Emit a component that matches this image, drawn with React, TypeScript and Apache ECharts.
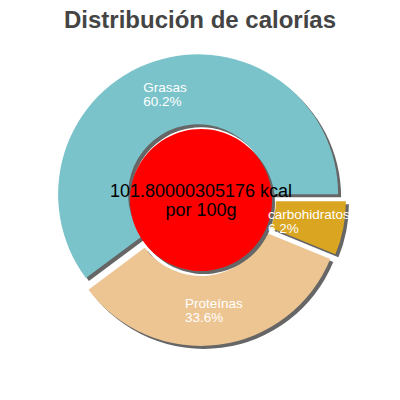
import React, { useEffect, useRef } from "react";
import * as echarts from "echarts";

const TITLE = "Distribución de calorías";
const categories = ["Grasas", "Proteínas", "carbohidratos"];
const percents = [60.2, 33.6, 6.2];
const colors = ["#7bc3cb", "#edc592", "#daa520"];
const energyKcal = "101.80000305176";
const centerLabel = ["101.80000305176 kcal", "por 100g"];

const FONT = "Liberation Sans, Arial, sans-serif";
const LABEL_RADIUS = 111;

export default function App() {
  const ref = useRef<HTMLDivElement>(null);
  useEffect(() => {
    if (!ref.current) return;
    const chart = echarts.init(ref.current, null, { renderer: "svg" });
    const total = percents.reduce((a, b) => a + b, 0);
    let acc = 0;
    const labelPoints = categories.map((name, i) => {
      const mid = acc + percents[i] / 2;
      acc += percents[i];
      return { name, value: [LABEL_RADIUS, mid], pct: percents[i] };
    });
    const sliceData = categories.map((name, i) => ({
      name,
      value: percents[i],
      selected: true,
      itemStyle: { color: colors[i] },
    }));
    const shadowData = categories.map((name, i) => ({
      name,
      value: percents[i],
      selected: true,
    }));
    const common = {
      type: "pie",
      radius: [70, 140],
      startAngle: 0,
      clockwise: false,
      selectedMode: "multiple",
      selectedOffset: 6,
      silent: true,
      avoidLabelOverlap: false,
      label: { show: false },
      labelLine: { show: false },
      emphasis: { disabled: true },
    };
    chart.setOption({
      animation: false,
      title: {
        text: TITLE,
        left: "center",
        top: 2,
        textStyle: {
          fontFamily: FONT,
          fontSize: 24,
          fontWeight: "bold",
          color: "#444444",
        },
      },
      polar: { center: [200, 200], radius: 140 },
      angleAxis: {
        type: "value",
        min: 0,
        max: total,
        startAngle: 0,
        clockwise: false,
        show: false,
      },
      radiusAxis: { type: "value", min: 0, max: 140, show: false },
      series: [
        {
          ...common,
          name: "shadow",
          center: [203, 203],
          z: 1,
          itemStyle: { color: "#666666" },
          data: shadowData,
        },
        {
          ...common,
          name: "calorias",
          center: [200, 200],
          z: 2,
          data: sliceData,
        },
        {
          type: "pie",
          name: "centerShadow",
          radius: [0, 71],
          center: [204, 203],
          z: 3,
          silent: true,
          emphasis: { disabled: true },
          label: { show: false },
          labelLine: { show: false },
          itemStyle: { color: "#666666" },
          data: [{ name: "kcal", value: Number(energyKcal) }],
        },
        {
          type: "pie",
          name: "center",
          radius: [0, 71],
          center: [201, 200],
          z: 4,
          silent: true,
          emphasis: { disabled: true },
          labelLine: { show: false },
          itemStyle: { color: "#ff0000" },
          label: {
            show: true,
            position: "center",
            formatter: centerLabel.join("\n"),
            color: "#000000",
            fontSize: 18,
            lineHeight: 19,
            fontFamily: FONT,
          },
          data: [{ name: "kcal", value: Number(energyKcal) }],
        },
        {
          type: "scatter",
          name: "labels",
          coordinateSystem: "polar",
          z: 10,
          silent: true,
          symbolSize: 1,
          itemStyle: { color: "rgba(0,0,0,0)" },
          emphasis: { disabled: true },
          label: {
            show: true,
            position: "inside",
            align: "center",
            verticalAlign: "middle",
            opacity: 1,
            formatter: (p: any) => `{t|${p.data.name}}\n{t|${p.data.pct}%}`,
            rich: {
              t: {
                align: "left",
                color: "#ffffff",
                fontSize: 13.5,
                lineHeight: 14,
                fontFamily: FONT,
              },
            },
          },
          data: labelPoints,
        },
      ],
    });
    return () => chart.dispose();
  }, []);
  return (
    <div
      ref={ref}
      style={{ position: "fixed", left: 0, top: 0, width: 400, height: 400, background: "#ffffff" }}
    />
  );
}
